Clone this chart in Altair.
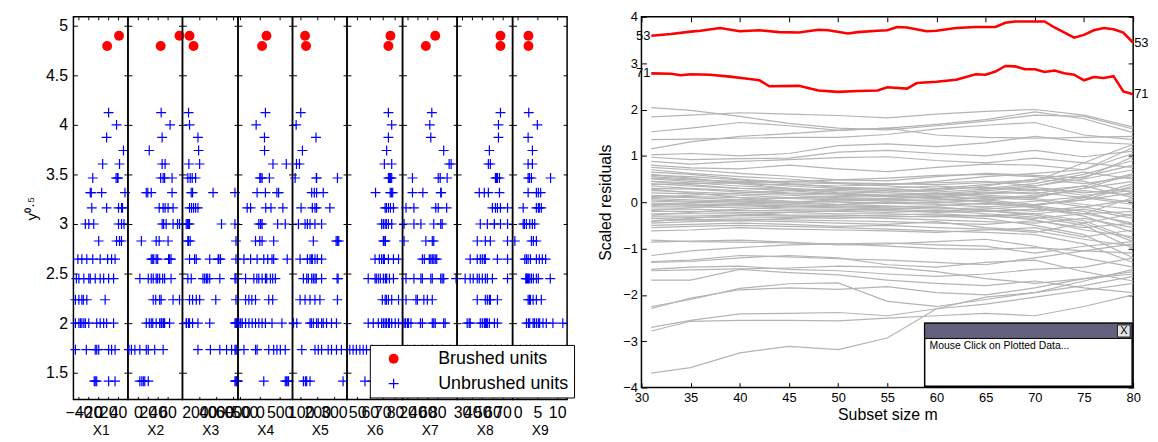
import altair as alt
import pandas as pd

# ---------------- left: y^0.5 against X1..X9 ----------------
y_obs = [24, 23, 17, 16, 15, 14, 13, 13, 12, 12, 12, 12, 11, 11, 11, 11,
         10, 10, 10, 10, 10, 9, 9, 9, 9, 9, 9, 8, 8, 8, 8,
         7, 7, 7, 7, 7, 7, 7, 7, 6, 6, 6, 6, 6, 6, 6, 6, 6, 6,
         5, 5, 5, 5, 5, 5, 4, 4, 4, 4, 4, 4, 4, 4, 4, 4, 4, 4,
         3, 3, 3, 3, 3, 3, 3, 3, 2, 2, 2, 2, 2]
n_brushed = 2

X1 = [42, 18, 21, 37, 17, 51, 9, 43, -11, 36, 39, 40, -16, -14, 7, 54,
      -13, 17, 41, 47, 49, -26, -19, -9, 41, 47, 52, 1, 37, 43, 47,
      -41, -33, -23, -11, 4, 19, 27, 34, -44, -39, -29, -19, -16, -6, 4, 11, 21, 31,
      -46, -39, -33, -30, -23, 14, -46, -39, -36, -33, -29, -26, -19, -3, 4, 11, 17, 31,
      -46, -24, -6, -3, 1, 21, 27, 34, -8, -6, -3, 21, 34]
X2 = [84, 46, 47, 65, 49, 23, 49, 55, 46, 51, 54, 69, 17, 20, 27, 69,
      43, 51, 55, 61, 71, 49, 52, 57, 71, 80, 84, 7, 37, 43, 61,
      27, 30, 32, 37, 40, 62, 64, 67, 4, 21, 27, 31, 37, 40, 44, 50, 54, 67,
      31, 36, 44, 47, 71, 84, 17, 23, 27, 30, 37, 44, 47, 48, 51, 52, 54, 64,
      -18, -13, -6, 4, 17, 21, 34, 51, 4, 8, 11, 14, 21]
X3 = [840, 1320, 720, 840, 1840, 1920, 760, 2040, 640, 920, 1160, 1560, 1040, 1200, 3640, 6240,
      840, 1080, 1320, 1560, 1840, 440, 600, 720, 840, 4640, 6240, 640, 720, 920, 6360,
      840, 1440, 1640, 3240, 4240, 4320, 4520, 6360,
      640, 1040, 2440, 2640, 2840, 3000, 3240, 4440, 6240, 6360,
      840, 1200, 1640, 2040, 3960, 6360,
      440, 480, 720, 840, 1200, 1840, 3240, 6240, 6360, 6420, 6480, 6520,
      1840, 3320, 4440, 5240, 5840, 6240, 6360, 6480, 6240, 6360, 6420, 6520, 6580]
X4 = [168, 58, 142, -92, 118, 120, 332, 668, 0, 25, 58, 242, -68, 142, 432, 475,
      -318, -232, 150, 282, 582, -25, 18, 25, 58, 450, 642, -108, 0, 58, 350,
      -400, -232, -68, 100, 200, 308, 350, 692,
      -358, -150, -75, -25, 58, 142, 175, 268, 325, 392,
      -358, -275, -200, -108, 225, 325,
      -525, -482, -442, -358, -275, -192, -108, -25, 58, 142, 308, 558,
      -400, -108, -68, 225, 350, 432, 518, 642, 100, 642, 675, 708, 725]
X5 = [126, 132, 100, 72, 192, 110, 74, 92, 66, 194, 196, 322, 166, 182, 196, 236,
      102, 170, 186, 196, 276, 86, 126, 140, 156, 186, 226, 176, 314, 322, 330,
      96, 140, 156, 166, 170, 186, 200, 226,
      116, 136, 146, 166, 176, 186, 194, 226, 320, 326,
      96, 126, 156, 186, 216, 322,
      56, 76, 156, 164, 176, 196, 206, 226, 236, 256, 286, 316,
      106, 186, 206, 226, 266, 286, 316, 346, 116, 128, 136, 156, 356]
X6 = [76.4, 74.8, 74.8, 77.4, 74.8, 73.4, 71.6, 77.4, 74.8, 75.6, 76.4, 77.4, 64.6, 76.2, 77.2, 78.2,
      72.2, 73.2, 74.8, 76.4, 78.8, 69.4, 70.8, 72.2, 73.2, 74.8, 77.4, 70.8, 71.2, 72.2, 72.4,
      64.2, 67.6, 69.4, 70.8, 71.6, 74.8, 78.8, 82.8,
      58.8, 64.2, 65.2, 66.8, 68.4, 70.8, 72.4, 73.4, 75.6, 78.8,
      70, 72.2, 73.2, 74.8, 77.4, 82.8,
      58.8, 62.8, 66.8, 69.4, 70.8, 72.2, 73.2, 74.8, 75.6, 77.4, 80.2, 82.8,
      44.2, 46.8, 49.4, 52.2, 54.8, 57.4, 62, 74, 56.2, 62, 66, 74, 78]
X7 = [76, 57, 69, 65, 67, 93, 104, 108, 30, 82, 86, 100, 30, 51, 87, 88,
      17, 33, 77, 82, 99, 13, 33, 47, 73, 87, 90, 13, 57, 70, 73,
      50, 54, 64, 67, 70, 73, 76, 79,
      17, 33, 47, 50, 67, 70, 87, 90, 93, 118,
      17, 37, 40, 53, 60, 70,
      13, 16, 20, 22, 27, 46, 50, 70, 73, 76, 93, 96,
      20, 34, 50, 60, 70, 80, 90, 106, 30, 50, 66, 80, 100]
X8 = [68, 68, 68, 66, 66, 57, 56, 58, 63, 64, 65, 67, 47, 52, 56, 67,
      60, 63, 65, 68, 75, 48, 55, 62, 62, 68, 75, 45, 53, 58, 75,
      38, 45, 48, 50, 52, 53, 65, 75,
      33, 38, 41, 45, 47, 50, 53, 55, 60, 75,
      45, 53, 55, 57, 58, 65,
      35, 37, 38, 48, 50, 52, 53, 54, 55, 57, 62, 65,
      35, 43, 49, 55, 58, 63, 69, 75, 40, 50, 57, 65, 73]
X9 = [2.75, 2.75, 2.83, 5.0, 2.67, 3.75, 2.67, 3.75, 2.67, 3.0, 3.5, 8.33, 2.67, 4.75, 5.25, 5.83,
      1.42, 4.75, 5.25, 5.5, 6.0, 1.42, 1.75, 2.25, 3.08, 3.75, 4.33, -0.67, 3.5, 4.0, 4.75,
      1.83, 2.25, 2.67, 3.25, 4.75, 5.5, 6.25, 7.08,
      2.08, 2.25, 2.5, 2.75, 3.08, 3.5, 4.0, 4.75, 5.25, 8.25,
      2.67, 3.0, 3.25, 3.92, 4.75, 6.0,
      2.25, 2.75, 3.08, 3.92, 4.25, 4.75, 5.25, 5.58, 6.42, 7.25, 8.92, 11.42,
      0.75, 2.25, 3.25, 4.25, 5.25, 6.25, 7.75, 12.25, 1.25, 2.75, 4.25, 5.75, 7.5]

x_names = ["X1", "X2", "X3", "X4", "X5", "X6", "X7", "X8", "X9"]
x_domains = [[-50, 60], [-20, 90], [0, 6600], [-550, 825], [50, 380],
             [42, 86], [10, 120], [25, 80], [-1.25, 12.5]]
x_ticks = [[-40, -20, 0, 20, 40], [0, 20, 40, 60], [2000, 4000, 6000], [-500, 0, 500],
           [100, 200, 300], [50, 60, 70, 80], [20, 40, 60, 80], [30, 40, 50, 60, 70], [0, 5, 10]]
y_ticks = [1.5, 2, 2.5, 3, 3.5, 4, 4.5, 5]
group_names = ["Brushed units", "Unbrushed units"]

# ---------------- right: forward-search residual trajectories ----------------
m_grid = [31, 35, 40, 45, 50, 55, 60, 65, 70, 75, 80]
grey_residuals = [
    [2.04, 1.98, 1.85, 1.70, 1.60, 1.56, 1.65, 1.75, 1.88, 1.85, 1.58],
    [1.84, 1.88, 1.93, 1.90, 1.87, 1.82, 1.90, 1.96, 2.00, 1.88, 1.62],
    [1.52, 1.60, 1.72, 1.65, 1.55, 1.60, 1.68, 1.78, 1.95, 1.80, 1.50],
    [1.35, 1.36, 1.38, 1.40, 1.40, 1.46, 1.58, 1.66, 1.72, 1.45, 1.35],
    [1.15, 1.30, 1.42, 1.48, 1.55, 1.60, 1.45, 1.40, 1.38, 1.40, 1.42],
    [1.02, 1.05, 1.00, 1.05, 1.22, 1.26, 1.20, 1.28, 1.42, 1.30, 1.25],
    [0.97, 0.92, 0.94, 0.95, 1.08, 1.12, 1.05, 1.00, 1.12, 0.98, 1.10],
    [0.88, 0.82, 0.88, 0.92, 0.96, 0.98, 0.90, 0.85, 0.95, 0.85, 0.75],
    [0.80, 0.74, 0.72, 0.80, 0.72, 0.66, 0.75, 0.82, 0.80, 0.70, 1.18],
    [0.75, 0.70, 0.62, 0.56, 0.48, 0.46, 0.55, 0.62, 0.58, 0.52, 0.98],
    [0.70, 0.62, 0.55, 0.50, 0.42, 0.38, 0.45, 0.55, 0.62, 0.70, 1.05],
    [0.65, 0.60, 0.50, 0.42, 0.40, 0.35, 0.30, 0.38, 0.45, 0.85, 1.25],
    [0.58, 0.55, 0.48, 0.40, 0.32, 0.30, 0.35, 0.30, 0.40, 0.60, 0.90],
    [0.55, 0.50, 0.42, 0.35, 0.30, 0.28, 0.25, 0.35, 0.50, 0.40, 0.55],
    [0.50, 0.45, 0.40, 0.38, 0.35, 0.38, 0.42, 0.45, 0.35, 0.55, 0.80],
    [0.45, 0.42, 0.35, 0.30, 0.25, 0.22, 0.28, 0.32, 0.25, 0.35, 0.62],
    [0.40, 0.35, 0.30, 0.28, 0.22, 0.20, 0.18, 0.25, 0.32, 0.20, 0.30],
    [0.35, 0.30, 0.25, 0.20, 0.18, 0.15, 0.20, 0.15, 0.10, 0.30, 0.45],
    [0.30, 0.28, 0.22, 0.18, 0.15, 0.12, 0.10, 0.18, 0.22, 0.10, -0.05],
    [0.25, 0.22, 0.18, 0.15, 0.10, 0.08, 0.12, 0.08, 0.15, 0.25, 0.15],
    [0.20, 0.18, 0.15, 0.10, 0.08, 0.05, 0.02, 0.05, -0.05, 0.05, 0.35],
    [0.15, 0.12, 0.10, 0.08, 0.05, 0.02, 0.05, 0.10, 0.05, -0.10, -0.30],
    [0.12, 0.10, 0.05, 0.02, 0.00, -0.02, 0.00, -0.05, 0.02, 0.12, 0.00],
    [0.08, 0.05, 0.02, 0.00, 0.02, 0.05, 0.08, 0.02, -0.08, -0.20, -0.50],
    [0.05, 0.02, 0.00, -0.02, -0.05, -0.02, -0.05, -0.10, -0.05, 0.05, 0.20],
    [0.02, 0.00, -0.03, -0.05, -0.08, -0.10, -0.08, -0.02, -0.12, -0.30, -0.65],
    [-0.02, -0.04, -0.06, -0.08, -0.10, -0.12, -0.15, -0.12, -0.20, -0.10, 0.05],
    [-0.05, -0.07, -0.08, -0.10, -0.12, -0.15, -0.10, -0.18, -0.25, -0.40, -0.80],
    [-0.10, -0.10, -0.12, -0.15, -0.15, -0.18, -0.22, -0.20, -0.15, -0.25, -0.20],
    [-0.15, -0.15, -0.18, -0.18, -0.20, -0.22, -0.18, -0.25, -0.32, -0.50, -1.00],
    [-0.20, -0.20, -0.22, -0.22, -0.25, -0.25, -0.28, -0.30, -0.25, -0.15, -0.35],
    [-0.25, -0.25, -0.25, -0.28, -0.28, -0.30, -0.32, -0.28, -0.38, -0.60, -0.75],
    [-0.30, -0.30, -0.28, -0.30, -0.32, -0.35, -0.38, -0.42, -0.45, -0.35, -0.55],
    [-0.35, -0.33, -0.32, -0.33, -0.35, -0.32, -0.30, -0.35, -0.50, -0.70, -1.20],
    [-0.40, -0.38, -0.36, -0.38, -0.40, -0.42, -0.45, -0.48, -0.40, -0.55, -0.45],
    [-0.45, -0.42, -0.40, -0.42, -0.45, -0.48, -0.42, -0.55, -0.62, -0.80, -0.95],
    [-0.50, -0.48, -0.45, -0.48, -0.52, -0.50, -0.55, -0.58, -0.65, -0.45, -0.25],
    [-0.55, -0.52, -0.50, -0.52, -0.55, -0.58, -0.62, -0.65, -0.70, -0.90, -1.30],
    [-0.62, -0.60, -0.55, -0.58, -0.60, -0.62, -0.65, -0.60, -0.55, -0.75, -0.60],
    [0.52, 0.48, 0.45, 0.45, 0.48, 0.52, 0.58, 0.60, 0.55, 0.45, 0.20],
    [0.38, 0.40, 0.42, 0.45, 0.42, 0.40, 0.38, 0.42, 0.48, 0.65, 0.50],
    [0.10, 0.15, 0.20, 0.25, 0.28, 0.25, 0.22, 0.28, 0.35, 0.50, 0.70],
    [-0.08, -0.02, 0.05, 0.10, 0.12, 0.15, 0.18, 0.12, 0.08, -0.05, -0.15],
    [-0.28, -0.22, -0.15, -0.10, -0.05, 0.00, -0.02, 0.05, 0.12, 0.30, 0.60],
    [-0.42, -0.35, -0.28, -0.22, -0.18, -0.15, -0.20, -0.15, -0.08, 0.10, 0.40],
    [0.60, 0.52, 0.40, 0.30, 0.20, 0.15, 0.08, 0.00, -0.10, -0.25, -0.45],
    [0.28, 0.20, 0.10, 0.02, -0.05, -0.08, -0.12, -0.18, -0.28, -0.45, -0.85],
    [-0.18, -0.12, -0.05, 0.00, 0.05, 0.08, 0.12, 0.20, 0.28, 0.15, 0.25],
    [0.45, 0.38, 0.30, 0.25, 0.18, 0.12, 0.15, 0.22, 0.18, 0.35, 0.10],
    [-0.35, -0.38, -0.40, -0.35, -0.30, -0.28, -0.25, -0.30, -0.35, -0.25, 0.10],
    [-0.82, -0.85, -0.86, -0.88, -0.90, -0.95, -1.00, -1.02, -0.98, -1.05, -1.10],
    [-0.86, -0.84, -0.82, -0.86, -0.92, -0.90, -0.85, -0.80, -0.95, -1.20, -1.40],
    [-1.15, -1.05, -0.98, -0.92, -0.90, -0.88, -0.92, -0.95, -1.10, -0.95, -0.85],
    [-1.28, -1.25, -1.15, -1.18, -1.22, -1.25, -1.30, -1.35, -1.20, -1.05, -0.90],
    [-1.30, -1.28, -1.20, -1.15, -1.20, -1.35, -1.40, -1.30, -1.25, -1.50, -1.70],
    [-1.45, -1.40, -1.38, -1.45, -1.48, -1.55, -1.60, -1.55, -1.45, -1.40, -1.20],
    [-1.48, -1.46, -1.44, -1.42, -1.38, -1.40, -1.50, -1.65, -1.75, -1.65, -1.55],
    [-1.68, -1.68, -1.45, -1.52, -1.57, -1.68, -1.75, -1.80, -1.70, -1.85, -1.95],
    [-2.25, -2.10, -1.86, -1.76, -1.74, -2.14, -2.25, -2.10, -1.95, -1.80, -1.60],
    [-2.29, -2.07, -1.89, -1.85, -1.88, -1.82, -1.95, -2.00, -1.85, -1.65, -1.50],
    [-2.70, -2.55, -2.41, -2.40, -2.38, -2.45, -2.30, -2.20, -2.05, -1.90, -1.75],
    [-2.78, -2.57, -2.55, -2.55, -2.56, -2.50, -2.45, -2.40, -2.45, -2.25, -2.00],
    [-3.69, -3.57, -3.25, -3.11, -3.18, -2.93, -2.30, -2.05, -1.95, -1.70, -1.45],
]
red53_m = [31, 33, 35, 36, 38, 40, 42, 44, 46, 48, 49, 51, 52, 54, 55, 56, 57, 59, 60,
           62, 64, 66, 67, 68, 71, 72, 74, 75, 76, 77, 78, 79, 80]
red53_r = [3.59, 3.63, 3.68, 3.70, 3.76, 3.69, 3.71, 3.67, 3.66, 3.72, 3.71, 3.64, 3.67,
           3.70, 3.71, 3.78, 3.77, 3.69, 3.70, 3.76, 3.78, 3.78, 3.87, 3.90, 3.90, 3.77,
           3.55, 3.61, 3.71, 3.76, 3.73, 3.66, 3.44]
red71_m = [31, 33, 34, 35, 37, 39, 41, 42, 43, 46, 48, 50, 52, 54, 55, 57, 58, 60, 62,
           64, 65, 66, 67, 68, 69, 70, 71, 72, 73, 74, 75, 76, 77, 78, 79, 80]
red71_r = [2.78, 2.77, 2.74, 2.76, 2.75, 2.71, 2.66, 2.63, 2.50, 2.51, 2.41, 2.38, 2.40,
           2.41, 2.48, 2.45, 2.57, 2.60, 2.64, 2.76, 2.75, 2.82, 2.94, 2.93, 2.87, 2.87,
           2.81, 2.84, 2.78, 2.75, 2.63, 2.70, 2.68, 2.72, 2.39, 2.33]
m_ticks = [30, 35, 40, 45, 50, 55, 60, 65, 70, 75, 80]
r_ticks = [-4, -3, -2, -1, 0, 1, 2, 3, 4]
popup_text = "Mouse Click on Plotted Data..."
popup_m = [58.8, 79.9]
popup_r = [-2.61, -3.97]
popup_header_r = -2.94

FONT = "Liberation Sans"

# ---------------- build left panels ----------------
left_df = pd.DataFrame({"yobs": y_obs,
                        "group": [group_names[0]] * n_brushed + [group_names[1]] * (len(y_obs) - n_brushed),
                        "X1": X1, "X2": X2, "X3": X3, "X4": X4, "X5": X5,
                        "X6": X6, "X7": X7, "X8": X8, "X9": X9})

PLUS = ("M-1,-0.12L-0.12,-0.12L-0.12,-1L0.12,-1L0.12,-0.12L1,-0.12L1,0.12L0.12,0.12"
        "L0.12,1L-0.12,1L-0.12,0.12L-1,0.12Z")
panel_w = [55, 55, 56, 55, 55, 56, 55, 56, 55]
LH = 386

panels = []
for i, name in enumerate(x_names):
    w = panel_w[i]
    xaxis = alt.Axis(values=x_ticks[i], format="d", title=name, labelFontSize=16,
                     titleFontSize=14, titleFontWeight="normal", labelPadding=5, titlePadding=3,
                     ticks=False, domain=False, grid=True, gridColor="black", gridOpacity=1,
                     gridDash=[3, LH - 6, 3, 3000], labelFlush=False, labelOverlap=False,
                     labelColor="black", titleColor="black", labelFont=FONT, titleFont=FONT)
    ykw = dict(values=y_ticks, format=".1~f", ticks=False, domain=False, grid=True,
               gridColor="black", gridOpacity=1, gridDash=[4, w - 8, 4, 3000],
               labels=(i == 0), labelFontSize=16, labelPadding=6, labelColor="black",
               labelFont=FONT)
    if i == 0:
        ykw.update(title="y⁰·⁵", titleFontSize=15, titleFontWeight="normal", titlePadding=6,
                   titleColor="black", titleFont=FONT)
    else:
        ykw.update(title=None)
    yaxis = alt.Axis(**ykw)
    if i == len(x_names) - 1:
        leg = alt.Legend(orient="none", legendX=-144, legendY=331, title=None,
                         fillColor="white", strokeColor="black", padding=5,
                         symbolOffset=10, labelOffset=36, labelFontSize=18, labelFont=FONT,
                         labelColor="black", rowPadding=7, symbolSize=100, symbolStrokeWidth=0)
    else:
        leg = None
    p = alt.Chart(left_df).transform_calculate(
        ys="sqrt(datum.yobs)"
    ).mark_point(filled=True, size=100, opacity=1, strokeWidth=0).encode(
        x=alt.X(f"{name}:Q", scale=alt.Scale(domain=x_domains[i], nice=False, zero=False), axis=xaxis),
        y=alt.Y("ys:Q", scale=alt.Scale(domain=[1.23, 5.09], nice=False, zero=False), axis=yaxis),
        color=alt.Color("group:N", scale=alt.Scale(domain=group_names, range=["#ff0000", "#0000ff"]), legend=leg),
        shape=alt.Shape("group:N", scale=alt.Scale(domain=group_names, range=["circle", PLUS]), legend=leg),
        order=alt.Order("yobs:Q"),
    ).properties(width=w, height=LH)
    panels.append(p)

# ---------------- spacer ----------------
spacer = alt.Chart(pd.DataFrame({"s": [0]})).mark_point(opacity=0).encode(
    x=alt.value(0), y=alt.value(0)
).properties(width=75, height=374, view=alt.ViewBackground(stroke="transparent"))

# ---------------- right panel ----------------
rows = []
for k, traj in enumerate(grey_residuals):
    for m, r in zip(m_grid, traj):
        rows.append({"unit": f"u{k}", "m": m, "r": r})
grey_df = pd.DataFrame(rows)
red_df = pd.concat([pd.DataFrame({"unit": "53", "m": red53_m, "r": red53_r}),
                    pd.DataFrame({"unit": "71", "m": red71_m, "r": red71_r})])
lab_df = pd.DataFrame({"m": [red53_m[0], red71_m[0]], "r": [red53_r[0], red71_r[0]], "t": ["53", "71"]})
labr_df = pd.DataFrame({"m": [red53_m[-1], red71_m[-1]], "r": [red53_r[-1], red71_r[-1]], "t": ["53", "71"]})

RW, RH = 496, 374
x_r = alt.X("m:Q", scale=alt.Scale(domain=[30, 80], nice=False, zero=False),
            axis=alt.Axis(values=m_ticks, format="d", title="Subset size m", labelFontSize=13,
                          titleFontSize=16, titleFontWeight="normal", labelPadding=4, titlePadding=2,
                          grid=True, gridColor="black", gridOpacity=1, gridDash=[5, RH - 10, 5, 3000],
                          ticks=False, domain=False, labelFlush=False, labelOverlap=False,
                          labelColor="black", titleColor="black", labelFont=FONT, titleFont=FONT))
y_r = alt.Y("r:Q", scale=alt.Scale(domain=[-4, 4], nice=False, zero=False),
            axis=alt.Axis(values=r_ticks, format="d", title="Scaled residuals", labelFontSize=13,
                          titleFontSize=16, titleFontWeight="normal", labelPadding=4, titlePadding=9,
                          grid=True, gridColor="black", gridOpacity=1, gridDash=[5, RW - 10, 5, 3000],
                          ticks=False, domain=False, labelFlush=False,
                          labelColor="black", titleColor="black", labelFont=FONT, titleFont=FONT))

grey = alt.Chart(grey_df).mark_line(color="#b4b4b4", strokeWidth=1.2).encode(
    x=x_r, y=y_r, detail="unit:N")
red = alt.Chart(red_df).mark_line(color="#ff0000", strokeWidth=2.6).encode(
    x="m:Q", y="r:Q", detail="unit:N")
labl = alt.Chart(lab_df).mark_text(align="right", baseline="middle", dx=-1, fontSize=13,
                                   font=FONT, color="black").encode(x="m:Q", y="r:Q", text="t:N")
labr = alt.Chart(labr_df).mark_text(align="left", baseline="middle", dx=1, fontSize=13,
                                    font=FONT, color="black").encode(x="m:Q", y="r:Q", text="t:N")
box = alt.Chart(pd.DataFrame({"a": [0]})).mark_rect(fill="white", stroke="black", strokeWidth=1.5).encode(
    x=alt.datum(popup_m[0]), x2=alt.datum(popup_m[1]), y=alt.datum(popup_r[0]), y2=alt.datum(popup_r[1]))
header = alt.Chart(pd.DataFrame({"a": [0]})).mark_rect(fill="#62627e", stroke="black", strokeWidth=1).encode(
    x=alt.datum(popup_m[0]), x2=alt.datum(popup_m[1]), y=alt.datum(popup_r[0]), y2=alt.datum(popup_header_r))
closeb = alt.Chart(pd.DataFrame({"a": [0]})).mark_rect(fill="#e4e4e4", stroke="#222222", strokeWidth=1).encode(
    x=alt.datum(78.4), x2=alt.datum(79.7), y=alt.datum(-2.65), y2=alt.datum(-2.91))
closet = alt.Chart(pd.DataFrame({"a": [0]})).mark_text(text="X", fontSize=11, font=FONT, color="black",
                                                        baseline="middle", align="center").encode(
    x=alt.datum(79.05), y=alt.datum(-2.78))
ptext = alt.Chart(pd.DataFrame({"a": [0]})).mark_text(text=popup_text, fontSize=10.5, font=FONT,
                                                       color="black", align="left", baseline="middle").encode(
    x=alt.datum(59.3), y=alt.datum(-3.11))

right = alt.layer(grey, red, labl, labr, box, header, closeb, closet, ptext).properties(width=RW, height=RH)

chart = alt.hconcat(*panels, spacer, right, spacing=0, bounds="flush").resolve_scale(
    color="independent", shape="independent"
).resolve_legend(color="independent", shape="independent").properties(
    padding={"left": 16, "top": 0, "right": 0, "bottom": 0}
).configure(font=FONT).configure_view(stroke="black", strokeWidth=1.5)

chart.save("out.html", embed_options={"renderer": "svg", "actions": False})
